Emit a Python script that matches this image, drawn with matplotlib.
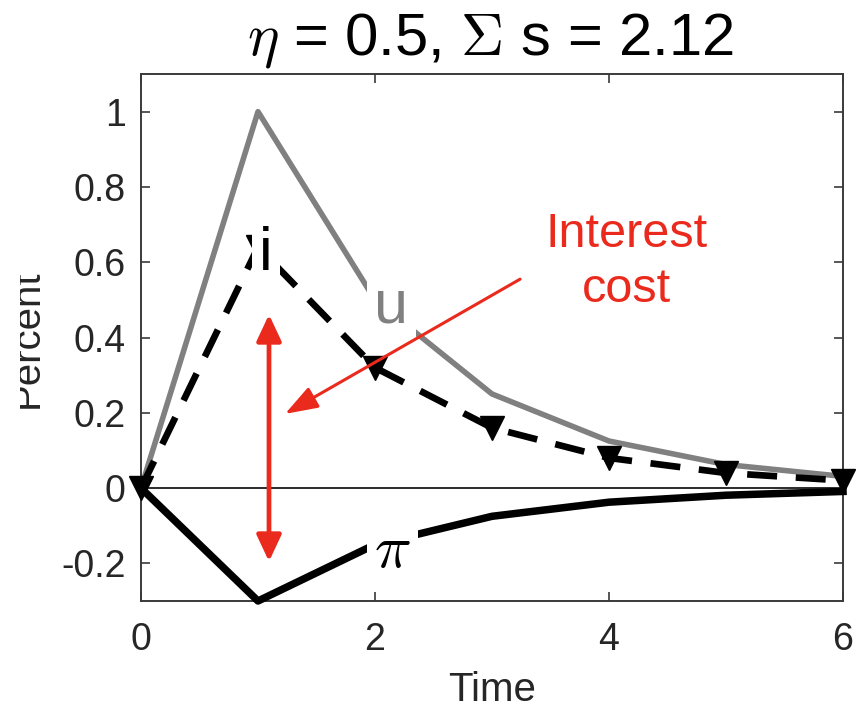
import matplotlib

matplotlib.use("Agg")
import matplotlib.pyplot as plt
from matplotlib.patches import Rectangle

# impulse responses
time = [0, 1, 2, 3, 4, 5, 6]
u_resp = [0.0, 1.0, 0.5, 0.25, 0.125, 0.0625, 0.031]
i_resp = [0.0, 0.64, 0.32, 0.16, 0.08, 0.04, 0.02]
pi_resp = [0.0, -0.30, -0.15, -0.075, -0.0375, -0.019, -0.009]

x_ticks = [0, 2, 4, 6]
y_ticks = [-0.2, 0, 0.2, 0.4, 0.6, 0.8, 1]
y_tick_labels = ["-0.2", "0", "0.2", "0.4", "0.6", "0.8", "1"]

plt.rcParams["font.family"] = ["Liberation Sans", "DejaVu Sans"]
plt.rcParams["mathtext.fontset"] = "cm"

RED = "#ea2a1c"
AXCOL = "#3a3a3a"
W, H = 865, 711

fig = plt.figure(figsize=(W / 100, H / 100), dpi=100, facecolor="white")
ax = fig.add_axes([141 / W, 1 - 601 / H, (843 - 141) / W, (601 - 74) / H])

ax.axhline(0, color="#1a1a1a", linewidth=1.3, zorder=1)
ax.plot(time, u_resp, color="#808080", linewidth=4.0, clip_on=False, zorder=2)
ax.plot(time, i_resp, color="black", linewidth=4.8, linestyle=(0, (4.5, 2.8)),
        marker="v", markersize=17.5, clip_on=False, zorder=3)
ax.plot(time, pi_resp, color="black", linewidth=5.4, clip_on=False, zorder=4)

ax.set_xlim(0, 6)
ax.set_ylim(-0.3, 1.1)
ax.set_xticks(x_ticks)
ax.set_yticks(y_ticks)
ax.set_yticklabels(y_tick_labels)
ax.tick_params(direction="in", length=6.5, width=1.2, color=AXCOL, labelsize=27,
               labelcolor="#262626", top=True, right=True)
ax.tick_params(axis="x", pad=15)
ax.tick_params(axis="y", pad=11)
for spine in ax.spines.values():
    spine.set_color(AXCOL)
    spine.set_linewidth(1.4)

# series labels sit on white boxes that hide the lines behind them
box = dict(facecolor="white", edgecolor="none", boxstyle="square,pad=0.12")
ax.text(1.068, 0.579, "i", fontsize=44, ha="center", va="baseline", bbox=box, zorder=5)
ax.text(2.14, 0.44, "u", fontsize=44, color="#808080", ha="center", va="baseline",
        bbox=box, zorder=5)
ax.text(2.15, -0.213, r"$\pi$", fontsize=44, ha="center", va="baseline", bbox=box, zorder=5)

# red annotation
ax.annotate("", xy=(1.094, 0.461), xytext=(1.094, -0.195),
            arrowprops=dict(arrowstyle="<|-|>,head_length=1.6,head_width=0.75",
                            mutation_scale=10, color=RED, linewidth=3.4,
                            shrinkA=0, shrinkB=0), annotation_clip=False, zorder=6)
ax.annotate("", xy=(1.231, 0.197), xytext=(3.24, 0.555),
            arrowprops=dict(arrowstyle="-|>,head_length=2.0,head_width=0.7",
                            mutation_scale=10, color=RED, linewidth=2.2,
                            shrinkA=0, shrinkB=0), annotation_clip=False, zorder=6)
ax.text(4.15, 0.64, "Interest", fontsize=35, color=RED, ha="center", va="baseline", zorder=6)
ax.text(4.15, 0.493, "cost", fontsize=35, color=RED, ha="center", va="baseline", zorder=6)

fig.text(490 / W, 1 - 54 / H, r"$\eta$ = 0.5, $\Sigma$ s = 2.12", fontsize=43,
         ha="center", va="baseline", color="black")
fig.text(492 / W, 1 - 701 / H, "Time", fontsize=29, ha="center", va="baseline", color="#262626")
fig.text(38 / W, 1 - 339 / H, "Percent", fontsize=29, rotation=90, ha="center",
         va="baseline", rotation_mode="anchor", color="#262626")
# the left strip of the original is blank, cutting the y label in half
fig.patches.append(Rectangle((0, 0), 20 / W, 1, transform=fig.transFigure,
                             facecolor="white", edgecolor="none", zorder=10))

fig.savefig("out.png", dpi=100)
